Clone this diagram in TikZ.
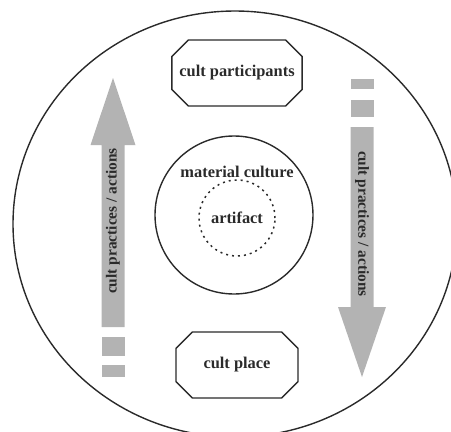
\documentclass[tikz,border=0pt]{standalone}
\usepackage{fontspec}
\setmainfont{Liberation Serif}
\usetikzlibrary{shapes.misc}
\definecolor{arrowgray}{HTML}{B3B3B3}
\definecolor{inkdark}{HTML}{2A2A2A}
\begin{document}
\begin{tikzpicture}[x=1pt,y=-1pt,
  lbl/.style={font=\bfseries\fontsize{16.4}{18}\selectfont, text=inkdark, inner sep=0pt},
  arrlbl/.style={font=\bfseries\fontsize{15.4}{17}\selectfont, text=inkdark, inner sep=0pt},
  octbox/.style={chamfered rectangle, draw=inkdark, line width=1.4pt,
    minimum width=122pt, minimum height=66pt,
    chamfered rectangle xsep=9pt, chamfered rectangle ysep=9pt, inner sep=0pt,
    font=\bfseries\fontsize{16.4}{18}\selectfont, text=inkdark},
  garrow/.style={fill=arrowgray, draw=none},
  ring/.style={draw=inkdark, line width=1.4pt}
]
\useasboundingbox (0,0) rectangle (451,432);
% outer circle
\draw[ring] (235,224) ellipse [x radius=222, y radius=213];
% inner circle
\node[circle, ring, minimum size=158pt, inner sep=0pt] (mc) at (234,215) {};
\node[circle, draw=inkdark, line width=1.5pt, dash pattern=on 2pt off 4pt, minimum size=76pt, inner sep=0pt] (art) at (237,218) {};
\node[lbl] (mctext) at (237,172) {material culture};
\node[lbl] (arttext) at (237,218) {artifact};
% boxes
\node[octbox] (part) at (237,73) {cult participants};
\node[octbox] (place) at (237,365) {cult place};
% left arrow (up)
\fill[garrow] (101.5,327) -- (101.5,145) -- (90.5,145) -- (113,78) -- (135.5,145) -- (124.5,145) -- (124.5,327) -- cycle;
\fill[garrow] (101.5,337) rectangle (124.5,356);
\fill[garrow] (101.5,365) rectangle (124.5,377);
\node[arrlbl, rotate=90] (ltext) at (113,221) {cult practices / actions};
% right arrow (down)
\fill[garrow] (350.5,127) -- (350.5,307) -- (338,307) -- (362,377) -- (386,307) -- (373.5,307) -- (373.5,127) -- cycle;
\fill[garrow] (350.5,100) rectangle (373.5,117);
\fill[garrow] (350.5,79) rectangle (373.5,89);
\node[arrlbl, rotate=-90] (rtext) at (362,224) {cult practices / actions};
\end{tikzpicture}
\end{document}
